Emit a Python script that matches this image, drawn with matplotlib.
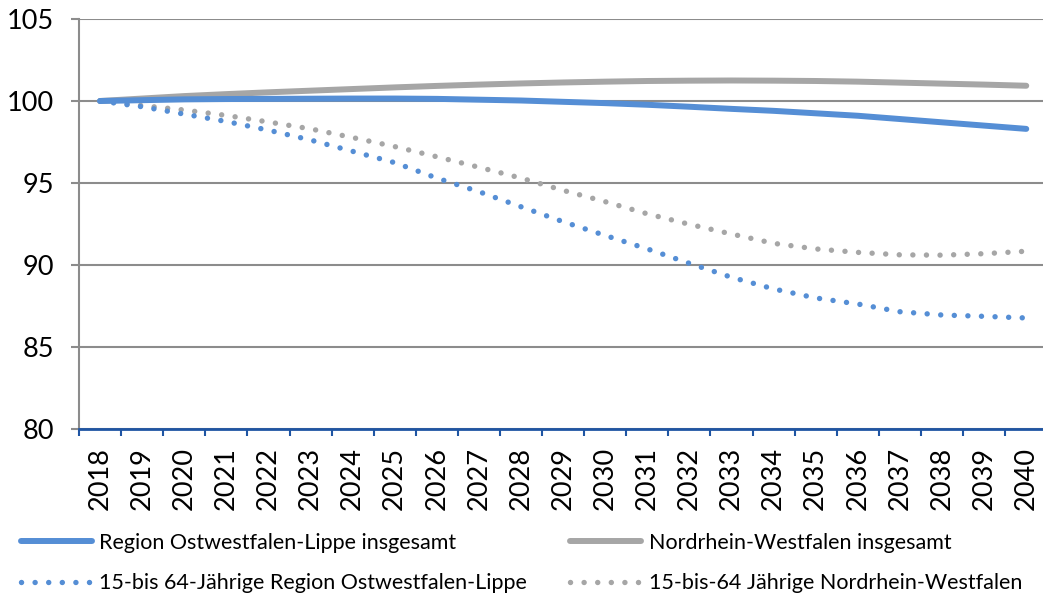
import matplotlib
matplotlib.use("Agg")
import matplotlib.pyplot as plt
from matplotlib.ticker import FixedLocator

years = [str(y) for y in range(2018, 2041)]

owl_total = [100.0, 100.05, 100.1, 100.12, 100.13, 100.14, 100.15, 100.15, 100.13, 100.08,
             100.03, 99.95, 99.87, 99.77, 99.65, 99.52, 99.4, 99.25, 99.1, 98.9, 98.7, 98.5, 98.3]
nrw_total = [100.0, 100.15, 100.3, 100.42, 100.53, 100.63, 100.73, 100.83, 100.92, 101.0,
             101.07, 101.13, 101.18, 101.22, 101.24, 101.25, 101.24, 101.22, 101.18, 101.12,
             101.06, 101.0, 100.93]
owl_1564 = [100.0, 99.65, 99.2, 98.75, 98.22, 97.62, 96.93, 96.24, 95.3, 94.47, 93.55, 92.64,
            91.8, 90.98, 90.1, 89.25, 88.54, 87.99, 87.62, 87.15, 86.95, 86.87, 86.77]
nrw_1564 = [100.0, 99.72, 99.45, 99.12, 98.72, 98.3, 97.77, 97.22, 96.6, 95.96, 95.3, 94.55,
            93.86, 93.12, 92.48, 91.89, 91.32, 90.98, 90.77, 90.62, 90.6, 90.69, 90.84]

labels = ["Region Ostwestfalen-Lippe insgesamt",
          "Nordrhein-Westfalen insgesamt",
          "15-bis 64-Jährige Region Ostwestfalen-Lippe",
          "15-bis-64 Jährige Nordrhein-Westfalen"]

blue = "#558ED5"
grey = "#A6A6A6"
axis_blue = "#1F55A3"
grid_grey = "#8C8C8C"

plt.rcParams['font.family'] = ['Lato', 'DejaVu Sans']

fig = plt.figure(figsize=(10.43, 5.98), dpi=100)
ax = fig.add_axes([79 / 1043, 1 - 429 / 598, 1 - 79 / 1043, (429 - 19) / 598])

x = list(range(len(years)))
dots = (0, (0.01, 2.5))
l1, = ax.plot(x, owl_total, color=blue, lw=4.3, solid_capstyle='round', zorder=4)
l2, = ax.plot(x, nrw_total, color=grey, lw=4.3, solid_capstyle='round', zorder=3)
l3, = ax.plot(x, owl_1564, color=blue, lw=3.9, linestyle=dots, dash_capstyle='round', zorder=4)
l4, = ax.plot(x, nrw_1564, color=grey, lw=3.9, linestyle=dots, dash_capstyle='round', zorder=3)

ax.set_ylim(80, 105)
ax.set_yticks([80, 85, 90, 95, 100, 105])
ax.set_xlim(-0.5, (1043 - 79) / 42.1 - 0.5)
ax.set_xticks(x)
ax.set_xticklabels(years, rotation=90)
ax.xaxis.set_minor_locator(FixedLocator([i - 0.5 for i in range(len(years) + 1)]))

ax.grid(axis='y', color=grid_grey, lw=1.5, zorder=1)
ax.set_axisbelow(True)
for s in ['top', 'right']:
    ax.spines[s].set_visible(False)
ax.spines['left'].set_color(grid_grey)
ax.spines['left'].set_linewidth(1.5)
ax.spines['bottom'].set_color(axis_blue)
ax.spines['bottom'].set_linewidth(2)
ax.spines['bottom'].set_zorder(5)

ax.tick_params(axis='y', length=6, width=1.5, color=grid_grey, pad=12, labelsize=19.5)
ax.tick_params(axis='x', which='major', length=0, pad=13, labelsize=19.5)
ax.tick_params(axis='x', which='minor', length=5, width=1.5, color=axis_blue, direction='out')

fig.legend([l1, l3, l2, l4], [labels[0], labels[2], labels[1], labels[3]],
           ncol=2, loc='upper left', bbox_to_anchor=(0.02, 0.109), frameon=False,
           prop={'family': ['Lato', 'DejaVu Sans'], 'size': 15.5},
           handlelength=3.3, handletextpad=0.35, columnspacing=2.0, labelspacing=0.95,
           borderaxespad=0, borderpad=0)

fig.savefig("out.png", dpi=100)
